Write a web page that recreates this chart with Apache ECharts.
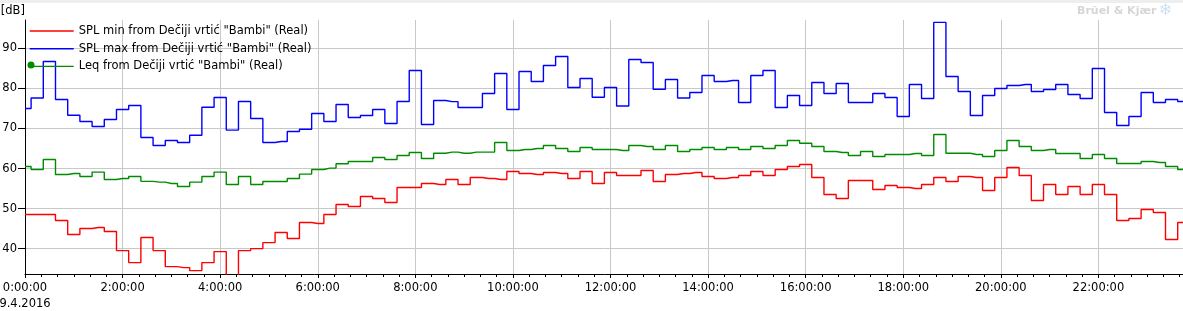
<!DOCTYPE html>
<html>
<head>
<meta charset="utf-8">
<script src="https://cdn.jsdelivr.net/npm/echarts@6/dist/echarts.min.js"></script>
<style>
html,body{margin:0;padding:0;background:#fff;}
#chart{width:1183px;height:311px;}
</style>
</head>
<body>
<div id="chart"></div>
<script>
// ---- data (15-minute samples starting 9.4.2016 0:00:00) ----
const startDate = '9.4.2016';
const sampleStepMinutes = 15;
const seriesNames = [
  'SPL min from Dečiji vrtić "Bambi" (Real)',
  'SPL max from Dečiji vrtić "Bambi" (Real)',
  'Leq from Dečiji vrtić "Bambi" (Real)'
];
const splMin = [
  48.5, 48.5, 48.5, 47.0, 43.5, 45.0, 45.25, 44.25, 39.5, 36.5, 42.75, 39.5, 35.5, 35.25, 34.5, 36.5,
  39.25, 31.0, 39.5, 40.0, 41.5, 44.0, 42.5, 46.5, 46.25, 48.5, 51.0, 50.5, 53.0, 52.5, 51.5, 55.25,
  55.25, 56.25, 56.0, 57.25, 56.0, 57.75, 57.5, 57.25, 59.25, 58.75, 58.5, 59.0, 58.75, 57.5, 59.25, 56.25,
  59.0, 58.25, 58.25, 59.5, 56.75, 58.5, 58.75, 59.0, 58.0, 57.5, 57.75, 58.25, 59.25, 58.25, 59.75, 60.5,
  61.0, 57.75, 53.5, 52.5, 57.0, 57.0, 54.75, 55.75, 55.25, 55.0, 56.0, 57.75, 56.75, 58.0, 57.75, 54.5,
  57.75, 60.25, 58.25, 52.0, 56.0, 53.5, 55.5, 53.5, 56.0, 53.5, 47.0, 47.5, 49.75, 49.0, 42.25, 46.5
];
const splMax = [
  75.0, 77.6, 86.75, 77.25, 73.3, 71.75, 70.5, 72.25, 74.75, 75.75, 67.75, 65.75, 67.0, 66.5, 68.3, 75.3,
  77.75, 69.6, 76.75, 72.5, 66.5, 66.75, 69.25, 69.8, 73.75, 71.75, 76.0, 72.75, 73.25, 74.75, 71.25, 76.75,
  84.5, 71.0, 77.0, 76.7, 75.25, 75.25, 78.75, 83.75, 74.75, 84.25, 81.75, 85.75, 88.0, 80.25, 82.5, 77.8,
  80.25, 75.6, 87.25, 86.5, 79.8, 82.25, 77.6, 79.0, 83.25, 81.75, 82.0, 76.5, 83.25, 84.5, 75.25, 78.25,
  75.75, 81.5, 78.75, 81.25, 76.5, 76.5, 78.75, 77.75, 73.0, 81.0, 77.5, 96.5, 83.0, 79.25, 73.25, 78.25,
  80.0, 80.75, 81.0, 79.25, 79.75, 81.0, 78.5, 77.5, 85.0, 74.0, 70.75, 73.0, 79.0, 76.5, 77.25, 76.75
];
const leq = [
  60.5, 59.75, 62.25, 58.5, 58.75, 58.0, 59.1, 57.25, 57.5, 58.0, 56.8, 56.6, 56.25, 55.5, 56.6, 58.0,
  59.1, 56.0, 58.0, 56.0, 56.75, 56.75, 57.5, 58.6, 59.75, 60.1, 61.2, 61.75, 61.75, 62.75, 62.25, 63.25,
  64.0, 62.5, 63.8, 64.1, 63.8, 64.1, 64.1, 66.5, 64.5, 64.75, 65.0, 65.75, 65.0, 64.25, 65.25, 64.75,
  64.75, 64.5, 65.75, 65.5, 64.75, 65.75, 64.25, 64.75, 65.25, 64.75, 65.25, 64.75, 65.5, 65.0, 65.75, 67.0,
  66.3, 65.5, 64.25, 64.0, 63.25, 64.25, 63.0, 63.5, 63.5, 63.75, 63.25, 68.5, 63.8, 63.8, 63.5, 63.0,
  64.5, 67.0, 65.5, 64.5, 64.75, 63.75, 63.75, 62.5, 63.5, 62.5, 61.25, 61.25, 61.75, 61.5, 60.5, 59.75
];
const yTickValues = [40, 50, 60, 70, 80, 90];
const xTickHours = [0, 2, 4, 6, 8, 10, 12, 14, 16, 18, 20, 22];

// ---- build ----
function pairs(arr) { return arr.map((v, i) => [i * sampleStepMinutes, v]); }
const FONT = 'DejaVu Sans';
const chart = echarts.init(document.getElementById('chart'), null, {renderer: 'canvas'});

const lineSeries = (name, data, color) => ({
  name, type: 'line', step: 'middle', data: pairs(data),
  symbol: 'none', clip: true, animation: false,
  lineStyle: {color, width: 1.4}, itemStyle: {color}
});

chart.setOption({
  animation: false,
  backgroundColor: '#ffffff',
  grid: {left: 25, right: -13, top: 20, bottom: 37, containLabel: false, outerBoundsMode: 'none'},
  legend: {
    orient: 'vertical', left: 29, top: 25, padding: 0,
    itemWidth: 44, itemHeight: 12, itemGap: 5.7,
    itemStyle: {opacity: 0},
    lineStyle: {width: 1.4},
    textStyle: {fontFamily: FONT, fontSize: 11.5, color: '#000', lineHeight: 12},
    data: seriesNames
  },
  xAxis: {
    type: 'value', min: 0, max: 1440, interval: 120,
    axisLine: {show: true, lineStyle: {color: '#000', width: 1}},
    axisTick: {show: true, length: 4, lineStyle: {color: '#000'}},
    minorTick: {show: true, splitNumber: 6, length: 3, lineStyle: {color: '#000'}},
    splitLine: {show: true, lineStyle: {color: '#c8c8c8', width: 1}},
    axisLabel: {
      fontFamily: FONT, fontSize: 11.5, color: '#000', margin: 6, lineHeight: 16,
      showMaxLabel: false,
      formatter: function (v) {
        const h = Math.round(v / 60);
        if (xTickHours.indexOf(h) < 0) return '';
        return h === 0 ? h + ':00:00\n' + startDate : h + ':00:00';
      }
    }
  },
  yAxis: {
    type: 'value', min: 33.65, max: 97.1,
    name: '[dB]', nameLocation: 'end', nameGap: 3,
    nameTextStyle: {fontFamily: FONT, fontSize: 11.5, color: '#000', align: 'right', verticalAlign: 'bottom'},
    axisLine: {show: true, lineStyle: {color: '#000', width: 1}},
    axisTick: {show: true, length: 7, lineStyle: {color: '#000'}, customValues: yTickValues},
    splitLine: {show: true, lineStyle: {color: '#c8c8c8', width: 1}},
    axisLabel: {fontFamily: FONT, fontSize: 11.5, color: '#000', margin: 8, customValues: yTickValues}
  },
  graphic: [
    {type: 'rect', left: 0, top: 0, shape: {width: 1183, height: 3}, style: {fill: '#eeeeee'}, silent: true},
    {type: 'text', left: 1077, top: 6, style: {text: 'Brüel & Kjær', font: 'bold 11px "DejaVu Sans"', fill: '#d6d6d6'}, silent: true},
    {type: 'text', left: 1159, top: 3, style: {text: '❄', font: '16px "DejaVu Sans"', fill: '#cfe0f6'}, silent: true},
    {type: 'circle', shape: {cx: 31, cy: 65, r: 3.5}, style: {fill: '#008c00'}, z: 100, silent: true}
  ],
  series: [
    lineSeries(seriesNames[0], splMin, '#ff0000'),
    lineSeries(seriesNames[1], splMax, '#0000ff'),
    lineSeries(seriesNames[2], leq, '#008c00')
  ]
});
</script>
</body>
</html>
